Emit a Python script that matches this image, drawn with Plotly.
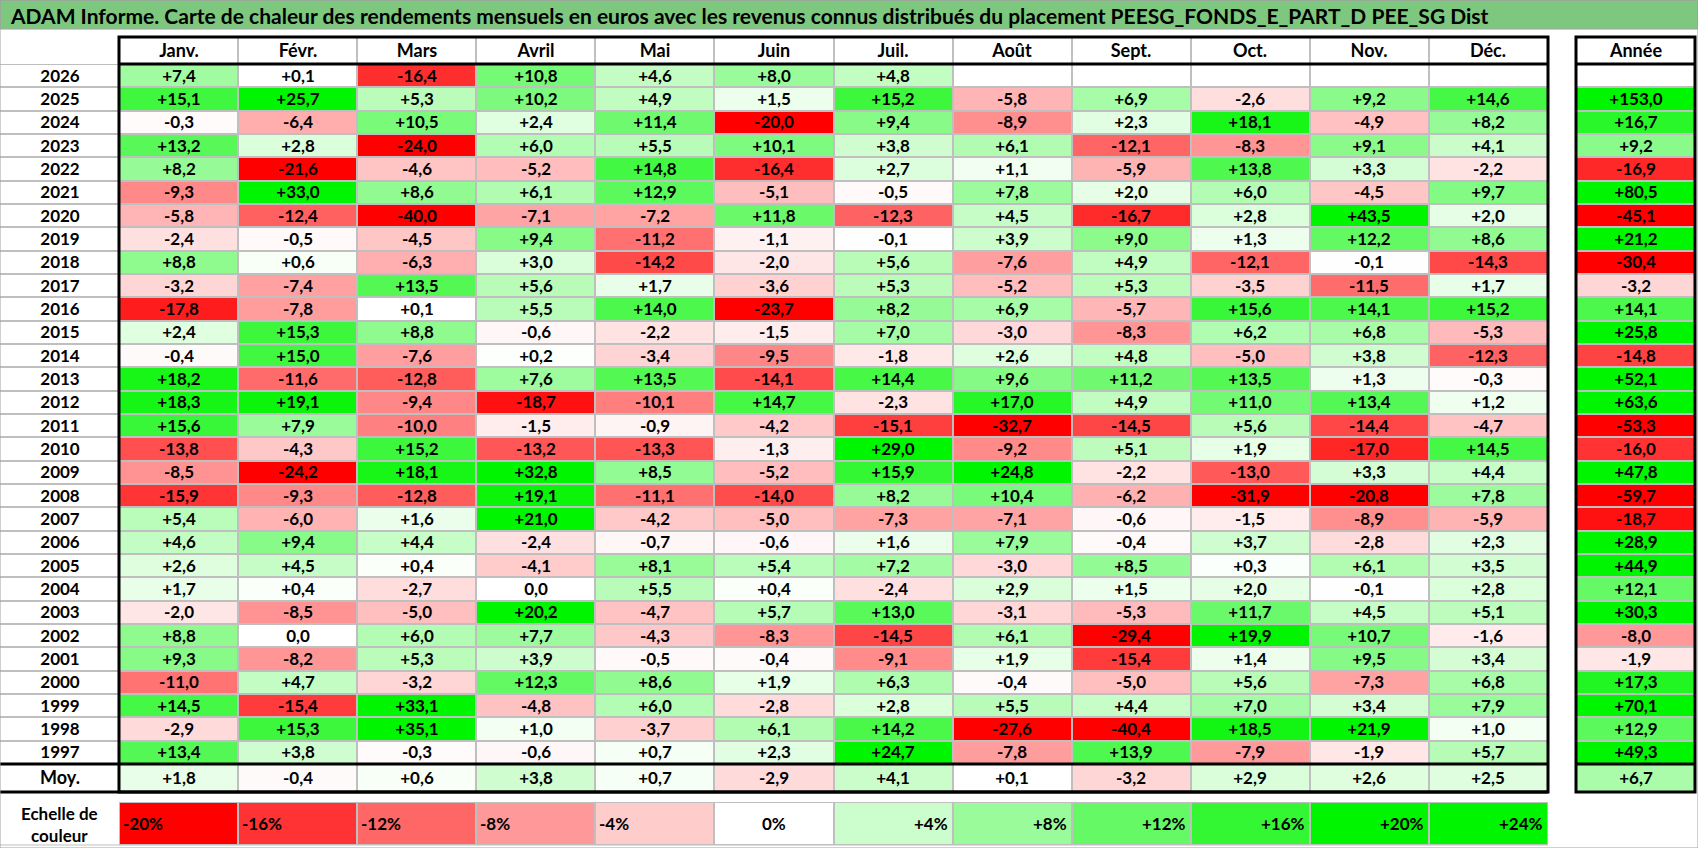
import numpy as np
import plotly.graph_objects as go

title = ("ADAM Informe. Carte de chaleur des rendements mensuels en euros avec les revenus "
         "connus distribués du placement PEESG_FONDS_E_PART_D PEE_SG Dist")

months = ["Janv.", "Févr.", "Mars", "Avril", "Mai", "Juin",
          "Juil.", "Août", "Sept.", "Oct.", "Nov.", "Déc."]
years = list(range(2026, 1996, -1))

# rendements mensuels en euros, une ligne par année (2026 -> 1997)
monthly = [
    [7.4, 0.1, -16.4, 10.8, 4.6, 8.0, 4.8, None, None, None, None, None],
    [15.1, 25.7, 5.3, 10.2, 4.9, 1.5, 15.2, -5.8, 6.9, -2.6, 9.2, 14.6],
    [-0.3, -6.4, 10.5, 2.4, 11.4, -20.0, 9.4, -8.9, 2.3, 18.1, -4.9, 8.2],
    [13.2, 2.8, -24.0, 6.0, 5.5, 10.1, 3.8, 6.1, -12.1, -8.3, 9.1, 4.1],
    [8.2, -21.6, -4.6, -5.2, 14.8, -16.4, 2.7, 1.1, -5.9, 13.8, 3.3, -2.2],
    [-9.3, 33.0, 8.6, 6.1, 12.9, -5.1, -0.5, 7.8, 2.0, 6.0, -4.5, 9.7],
    [-5.8, -12.4, -40.0, -7.1, -7.2, 11.8, -12.3, 4.5, -16.7, 2.8, 43.5, 2.0],
    [-2.4, -0.5, -4.5, 9.4, -11.2, -1.1, -0.1, 3.9, 9.0, 1.3, 12.2, 8.6],
    [8.8, 0.6, -6.3, 3.0, -14.2, -2.0, 5.6, -7.6, 4.9, -12.1, -0.1, -14.3],
    [-3.2, -7.4, 13.5, 5.6, 1.7, -3.6, 5.3, -5.2, 5.3, -3.5, -11.5, 1.7],
    [-17.8, -7.8, 0.1, 5.5, 14.0, -23.7, 8.2, 6.9, -5.7, 15.6, 14.1, 15.2],
    [2.4, 15.3, 8.8, -0.6, -2.2, -1.5, 7.0, -3.0, -8.3, 6.2, 6.8, -5.3],
    [-0.4, 15.0, -7.6, 0.2, -3.4, -9.5, -1.8, 2.6, 4.8, -5.0, 3.8, -12.3],
    [18.2, -11.6, -12.8, 7.6, 13.5, -14.1, 14.4, 9.6, 11.2, 13.5, 1.3, -0.3],
    [18.3, 19.1, -9.4, -18.7, -10.1, 14.7, -2.3, 17.0, 4.9, 11.0, 13.4, 1.2],
    [15.6, 7.9, -10.0, -1.5, -0.9, -4.2, -15.1, -32.7, -14.5, 5.6, -14.4, -4.7],
    [-13.8, -4.3, 15.2, -13.2, -13.3, -1.3, 29.0, -9.2, 5.1, 1.9, -17.0, 14.5],
    [-8.5, -24.2, 18.1, 32.8, 8.5, -5.2, 15.9, 24.8, -2.2, -13.0, 3.3, 4.4],
    [-15.9, -9.3, -12.8, 19.1, -11.1, -14.0, 8.2, 10.4, -6.2, -31.9, -20.8, 7.8],
    [5.4, -6.0, 1.6, 21.0, -4.2, -5.0, -7.3, -7.1, -0.6, -1.5, -8.9, -5.9],
    [4.6, 9.4, 4.4, -2.4, -0.7, -0.6, 1.6, 7.9, -0.4, 3.7, -2.8, 2.3],
    [2.6, 4.5, 0.4, -4.1, 8.1, 5.4, 7.2, -3.0, 8.5, 0.3, 6.1, 3.5],
    [1.7, 0.4, -2.7, 0.0, 5.5, 0.4, -2.4, 2.9, 1.5, 2.0, -0.1, 2.8],
    [-2.0, -8.5, -5.0, 20.2, -4.7, 5.7, 13.0, -3.1, -5.3, 11.7, 4.5, 5.1],
    [8.8, 0.0, 6.0, 7.7, -4.3, -8.3, -14.5, 6.1, -29.4, 19.9, 10.7, -1.6],
    [9.3, -8.2, 5.3, 3.9, -0.5, -0.4, -9.1, 1.9, -15.4, 1.4, 9.5, 3.4],
    [-11.0, 4.7, -3.2, 12.3, 8.6, 1.9, 6.3, -0.4, -5.0, 5.6, -7.3, 6.8],
    [14.5, -15.4, 33.1, -4.8, 6.0, -2.8, 2.8, 5.5, 4.4, 7.0, 3.4, 7.9],
    [-2.9, 15.3, 35.1, 1.0, -3.7, 6.1, 14.2, -27.6, -40.4, 18.5, 21.9, 1.0],
    [13.4, 3.8, -0.3, -0.6, 0.7, 2.3, 24.7, -7.8, 13.9, -7.9, -1.9, 5.7],
]
annual = [None, 153.0, 16.7, 9.2, -16.9, 80.5, -45.1, 21.2, -30.4, -3.2,
          14.1, 25.8, -14.8, 52.1, 63.6, -53.3, -16.0, 47.8, -59.7, -18.7,
          28.9, 44.9, 12.1, 30.3, -8.0, -1.9, 17.3, 70.1, 12.9, 49.3]
monthly_avg = [1.8, -0.4, 0.6, 3.8, 0.7, -2.9, 4.1, 0.1, -3.2, 2.9, 2.6, 2.5]
annual_avg = 6.7
scale_steps = [-20, -16, -12, -8, -4, 0, 4, 8, 12, 16, 20, 24]

FONT = "Lato"
W, H = 1698, 848
ZMIN, ZMAX = -20, 20
GRID = "#BFBFBF"

heat = [[0, "rgb(255,0,0)"], [0.5, "rgb(255,255,255)"], [1, "rgb(0,245,0)"]]
white = [[0, "white"], [1, "white"]]


def fmt(v):
    if v is None:
        return ""
    if v == 0:
        return "0,0"
    return f"{v:+.1f}".replace(".", ",")


def colour(v):
    return 0 if v is None else float(np.clip(v, ZMIN, ZMAX))


def px(x):
    return x / W


def py(y):
    return 1 - y / H


# pixel positions of the table parts
LABEL_X = (0, 119)
MONTH_X = (119, 1548)
YEAR_X = (1576, 1695)
HEAD_Y = (37, 64)
BODY_Y = (64, 764)
AVG_Y = (764, 792)
SCALE_Y = (802, 845)


def cells(z, text, xa, ya, x, y, cs=heat, xgap=2, size=17):
    return go.Heatmap(
        z=z, x=x, y=y, text=text, texttemplate="<b>%{text}</b>",
        textfont=dict(family=FONT, size=size, color="black"),
        colorscale=cs, zmin=ZMIN, zmax=ZMAX, showscale=False,
        xgap=xgap, ygap=2, hoverinfo="skip", xaxis=xa, yaxis=ya)


mx = list(range(len(months)))
fig = go.Figure()

# corps du tableau
fig.add_trace(cells([[0] for _ in years], [[str(y)] for y in years], "x", "y", [0], years, cs=white, xgap=0))
fig.add_trace(cells([[colour(v) for v in row] for row in monthly],
                    [[fmt(v) for v in row] for row in monthly], "x2", "y", mx, years))
fig.add_trace(cells([[colour(v)] for v in annual], [[fmt(v)] for v in annual], "x3", "y", [0], years))

# ligne des moyennes
fig.add_trace(cells([[0]], [["Moy."]], "x", "y2", [0], [0], cs=white, xgap=0, size=18))
fig.add_trace(cells([[colour(v) for v in monthly_avg]], [[fmt(v) for v in monthly_avg]], "x2", "y2", mx, [0]))
fig.add_trace(cells([[colour(annual_avg)]], [[fmt(annual_avg)]], "x3", "y2", [0], [0]))

# en-têtes
fig.add_trace(cells([[0] * len(months)], [months], "x2", "y4", mx, [0], cs=white, size=18))
fig.add_trace(cells([[0]], [["Année"]], "x3", "y4", [0], [0], cs=white, size=18))

# échelle de couleur
fig.add_trace(cells([scale_steps], [[""] * len(scale_steps)], "x2", "y3", mx, [0]))

annotations = []
for i, s in enumerate(scale_steps):
    label = "0%" if s == 0 else f"{s:+d}%"
    if s < 0:
        xpos, anchor, shift = i - 0.5, "left", 2
    elif s == 0:
        xpos, anchor, shift = i, "center", 0
    else:
        xpos, anchor, shift = i + 0.5, "right", -3
    annotations.append(dict(x=xpos, y=0, xref="x2", yref="y3", text=f"<b>{label}</b>",
                            showarrow=False, xanchor=anchor, xshift=shift,
                            font=dict(family=FONT, size=17, color="black")))

annotations.append(dict(x=px(sum(LABEL_X) / 2), y=py(SCALE_Y[0] - 1), xref="paper", yref="paper",
                        text="<b>Echelle de<br>couleur</b>", showarrow=False,
                        xanchor="center", yanchor="top",
                        font=dict(family=FONT, size=17, color="black")))
annotations.append(dict(x=px(8), y=py(15), xref="paper", yref="paper", text=f"<b>{title}</b>",
                        showarrow=False, xanchor="left", yanchor="middle",
                        font=dict(family=FONT, size=21, color="black")))


def axis(dom, rng, anchor):
    return dict(domain=dom, range=rng, visible=False, fixedrange=True, anchor=anchor,
                showgrid=False, zeroline=False)


def line(x0, x1, y0, y1, width=3, color="black"):
    return dict(type="line", xref="paper", yref="paper", x0=px(x0), x1=px(x1),
                y0=py(y0), y1=py(y1), line=dict(color=color, width=width))


def box(x0, x1, y0, y1, width=3, color="black", fill=None):
    return dict(type="rect", xref="paper", yref="paper", x0=px(x0), x1=px(x1),
                y0=py(y1), y1=py(y0), line=dict(color=color, width=width),
                fillcolor=fill, layer="above" if fill is None else "below")


shapes = [
    box(0, W, 0, 29, width=1, color="#A0A0A0", fill="#7EC77E"),
    box(MONTH_X[0], MONTH_X[1], HEAD_Y[0], AVG_Y[1]),
    line(MONTH_X[0], MONTH_X[1], HEAD_Y[1], HEAD_Y[1]),
    line(LABEL_X[0], MONTH_X[1], AVG_Y[0], AVG_Y[0]),
    line(LABEL_X[0], MONTH_X[1], AVG_Y[1], AVG_Y[1]),
    box(YEAR_X[0], YEAR_X[1], HEAD_Y[0], AVG_Y[1]),
    line(YEAR_X[0], YEAR_X[1], HEAD_Y[1], HEAD_Y[1]),
    line(YEAR_X[0], YEAR_X[1], AVG_Y[0], AVG_Y[0]),
    line(LABEL_X[0], MONTH_X[1], SCALE_Y[1], SCALE_Y[1], width=1, color=GRID),
    box(0, W, 0, H, width=1, color="#A0A0A0"),
]

fig.update_layout(
    width=W, height=H,
    margin=dict(l=0, r=0, t=0, b=0),
    paper_bgcolor="white",
    plot_bgcolor=GRID,
    showlegend=False,
    xaxis=axis([px(LABEL_X[0]), px(LABEL_X[1])], [-0.5, 0.5], "y"),
    xaxis2=axis([px(MONTH_X[0]), px(MONTH_X[1])], [-0.5, len(months) - 0.5], "y"),
    xaxis3=axis([px(YEAR_X[0]), px(YEAR_X[1])], [-0.5, 0.5], "y"),
    yaxis=axis([py(BODY_Y[1]), py(BODY_Y[0])], [years[-1] - 0.5, years[0] + 0.5], "x"),
    yaxis2=axis([py(AVG_Y[1]), py(AVG_Y[0])], [-0.5, 0.5], "x"),
    yaxis3=axis([py(SCALE_Y[1]), py(SCALE_Y[0])], [-0.5, 0.5], "x"),
    yaxis4=axis([py(HEAD_Y[1]), py(HEAD_Y[0])], [-0.5, 0.5], "x"),
    annotations=annotations,
    shapes=shapes,
)

# page sans marge pour que la figure occupe toute la fenêtre
fig.write_html("out.html", config={"displayModeBar": False},
               post_script="document.body.style.margin='0';document.body.style.overflow='hidden';")
